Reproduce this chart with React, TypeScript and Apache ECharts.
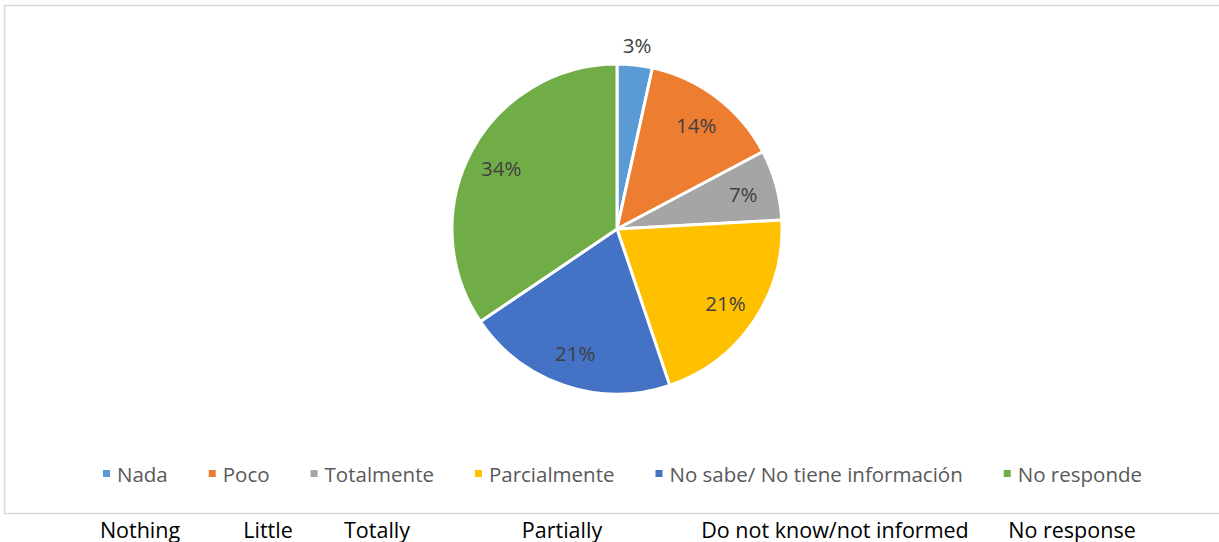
import React, { useEffect, useRef } from "react";
import * as echarts from "echarts";

const categories = ["Nada", "Poco", "Totalmente", "Parcialmente", "No sabe/ No tiene información", "No responde"];
const counts = [1, 4, 2, 6, 6, 10];
const colors = ["#5B9BD5", "#ED7D31", "#A5A5A5", "#FFC000", "#4472C4", "#70AD47"];
const englishLabels = ["Nothing", "Little", "Totally", "Partially", "Do not know/not informed", "No response"];
const englishX = [140, 268, 377, 562, 835, 1072];

export default function App() {
  const ref = useRef<HTMLDivElement>(null);
  useEffect(() => {
    if (!ref.current) return;
    const chart = echarts.init(ref.current, null, { renderer: "svg" });
    const total = counts.reduce((a, b) => a + b, 0);
    const fmt = (p: any) => Math.round((p.value / total) * 100) + "%";
    const font = "'Open Sans', 'Noto Sans', sans-serif";
    const baseData = categories.map((n, i) => ({ name: n, value: counts[i], itemStyle: { color: colors[i] } }));
    const labelSeries = (radius: number[], showIdx: (i: number) => boolean) => ({
      type: "pie",
      center: [617, 229],
      radius,
      startAngle: 90,
      clockwise: true,
      silent: true,
      itemStyle: { color: "transparent", borderWidth: 0 },
      label: {
        show: true,
        position: "inside",
        formatter: fmt,
        fontFamily: font,
        fontSize: 20.5,
        color: "#404040",
      },
      labelLine: { show: false },
      emphasis: { disabled: true },
      data: categories.map((n, i) => ({
        name: n,
        value: counts[i],
        label: { show: showIdx(i) },
        itemStyle: { color: "transparent" },
      })),
    });
    chart.setOption({
      animation: false,
      backgroundColor: "#ffffff",
      legend: {
        top: 458,
        left: 96,
        icon: "rect",
        itemWidth: 9,
        itemHeight: 9,
        itemGap: 39,
        textStyle: { fontFamily: font, fontSize: 20.5, color: "#595959", padding: [0, 0, 0, 1] },
        data: categories.map((n, i) => ({ name: n, itemStyle: { color: colors[i] } })),
        selectedMode: false,
      },
      graphic: [
        {
          type: "rect",
          shape: { x: 4.5, y: 5.5, width: 1230, height: 508 },
          style: { fill: "none", stroke: "#D9D9D9", lineWidth: 1.5 },
          silent: true,
        },
        ...englishLabels.map((t, i) => ({
          type: "text",
          x: englishX[i],
          y: 529,
          style: { text: t, fontFamily: font, fontSize: 21.5, fill: "#000000", align: "center", verticalAlign: "middle" },
          silent: true,
        })),
      ],
      series: [
        {
          type: "pie",
          center: [617, 229],
          radius: [0, 165],
          startAngle: 90,
          clockwise: true,
          label: { show: false },
          labelLine: { show: false },
          itemStyle: { borderColor: "#ffffff", borderWidth: 3 },
          emphasis: { disabled: true },
          data: baseData,
        },
        labelSeries([96, 160], (i) => i !== 0),
        labelSeries([168, 196], (i) => i === 0),
      ],
    });
    return () => chart.dispose();
  }, []);
  return (
    <div
      ref={ref}
      style={{ position: "fixed", left: 0, top: 0, width: 1219, height: 542, background: "#fff" }}
    />
  );
}
